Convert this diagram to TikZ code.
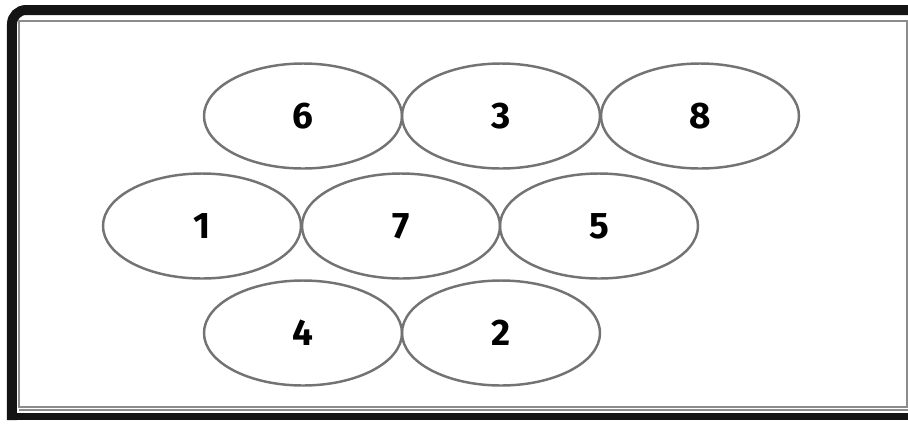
\documentclass[tikz,border=0pt]{standalone}
\usepackage{fontspec}
\setmainfont{Fira Sans}
\usetikzlibrary{shapes.geometric}

\tikzset{
  cell/.style={ellipse, draw=black!55, line width=0.7pt, minimum width=1.98cm,
    minimum height=1.05cm, inner sep=0pt, font=\fontsize{10.5}{12}\selectfont\bfseries},
}

\begin{document}
\begin{tikzpicture}[x=1cm, y=1cm]
    \useasboundingbox (0,0) rectangle (9.08,4.23);
    \clip (0,0) rectangle (9.08,4.23);

    % frame
    \draw[black!45, line width=0.4pt] (9.07,4.02) -- (0.19,4.02) -- (0.19,0.16) -- (9.07,0.16) -- cycle;
    \draw[black!45, line width=0.4pt] (0.19,0.13) -- (9.08,0.13);
    \draw[black!92, line width=0.1cm, rounded corners=4pt] (9.3,4.13) -- (0.12,4.13) -- (0.12,0.03);
    \draw[black!92, line width=0.075cm] (0.07,0.065) -- (9.3,0.065);

    % top row
    \node[cell] (n6) at (3.03,3.07) {6};
    \node[cell] (n3) at (5.01,3.07) {3};
    \node[cell] (n8) at (7.00,3.07) {8};

    % middle row
    \node[cell] (n1) at (2.02,1.97) {1};
    \node[cell] (n7) at (4.01,1.97) {7};
    \node[cell] (n5) at (5.99,1.97) {5};

    % bottom row
    \node[cell] (n4) at (3.03,0.90) {4};
    \node[cell] (n2) at (5.01,0.90) {2};
\end{tikzpicture}
\end{document}
